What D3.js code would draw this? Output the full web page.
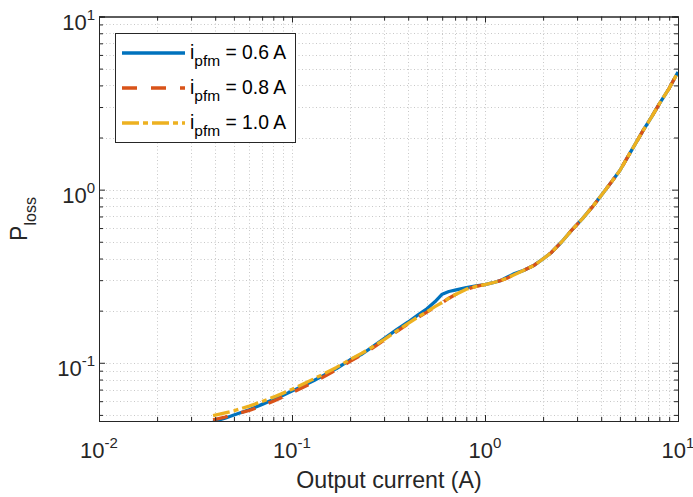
<!DOCTYPE html>
<html><head><meta charset="utf-8">
<script src="https://cdn.jsdelivr.net/npm/d3@7"></script>
<style>body{margin:0;background:#fff}</style>
</head><body>
<svg id="c" width="693" height="497"></svg>
<script>
// ---- data ----
const current = [0.039, 0.045, 0.05, 0.06, 0.07, 0.08, 0.09, 0.1, 0.115, 0.13, 0.15, 0.17, 0.2, 0.23, 0.26, 0.3, 0.35, 0.4, 0.45, 0.5, 0.55, 0.6, 0.65, 0.7, 0.8, 0.9, 1.0, 1.1, 1.2, 1.3, 1.4, 1.6, 1.8, 2.0, 2.2, 2.5, 2.8, 3.2, 3.6, 4.0, 4.5, 5.0, 5.5, 6.0, 6.6, 7.3, 8.0, 9.0, 10.0];
const loss06 = [0.0458, 0.0478, 0.0499, 0.0535, 0.0575, 0.0613, 0.065, 0.0686, 0.074, 0.079, 0.086, 0.0925, 0.104, 0.112, 0.123, 0.138, 0.156, 0.172, 0.189, 0.205, 0.225, 0.249, 0.258, 0.263, 0.272, 0.278, 0.283, 0.29, 0.298, 0.312, 0.325, 0.343, 0.366, 0.398, 0.432, 0.50, 0.58, 0.68, 0.795, 0.925, 1.10, 1.29, 1.55, 1.83, 2.20, 2.63, 3.13, 3.85, 4.78];
const loss08 = [0.0468, 0.0486, 0.0502, 0.053, 0.0565, 0.060, 0.0636, 0.0672, 0.0725, 0.0775, 0.0845, 0.091, 0.102, 0.111, 0.121, 0.135, 0.152, 0.168, 0.183, 0.196, 0.21, 0.222, 0.236, 0.247, 0.266, 0.276, 0.283, 0.29, 0.298, 0.308, 0.32, 0.343, 0.366, 0.398, 0.432, 0.50, 0.58, 0.68, 0.795, 0.925, 1.10, 1.29, 1.55, 1.83, 2.20, 2.63, 3.13, 3.85, 4.78];
const loss10 = [0.0495, 0.0513, 0.0528, 0.0562, 0.0598, 0.0633, 0.0668, 0.0703, 0.0757, 0.0808, 0.0875, 0.094, 0.1045, 0.1135, 0.123, 0.136, 0.153, 0.169, 0.184, 0.197, 0.211, 0.223, 0.236, 0.247, 0.266, 0.276, 0.283, 0.29, 0.298, 0.308, 0.32, 0.343, 0.366, 0.398, 0.432, 0.50, 0.58, 0.68, 0.795, 0.925, 1.10, 1.29, 1.55, 1.83, 2.20, 2.63, 3.13, 3.85, 4.78];
const seriesLabels = ["0.6 A", "0.8 A", "1.0 A"];
const xTickExps = [-2, -1, 0, 1];
const yTickExps = [-1, 0, 1];
const xLabel = "Output current (A)";

// ---- layout ----
const L = 99, R = 678, T = 16.5, B = 421;
const font = "'Liberation Sans', Arial, Helvetica, sans-serif";
const axisColor = "#262626";
const svg = d3.select("#c");
const x = d3.scaleLog().domain([0.01, 10]).range([L, R]);
const y = d3.scaleLog().domain([0.0461, 10]).range([B, T]);

function minorVals(scale) {
  const [a, b] = scale.domain();
  const out = [];
  for (let e = Math.floor(Math.log10(a)); e <= Math.ceil(Math.log10(b)); e++) {
    for (let k = 1; k <= 9; k++) {
      const v = k * Math.pow(10, e);
      if (v >= a * 0.9999 && v <= b * 1.0001) out.push(v);
    }
  }
  return out;
}
const xAll = minorVals(x), yAll = minorVals(y);
const xMaj = xTickExps.map(e => Math.pow(10, e));
const yMaj = yTickExps.map(e => Math.pow(10, e));

// grid
const grid = svg.append("g").attr("stroke", "#c8c8c8").attr("stroke-width", 1).attr("stroke-dasharray", "1,2.5");
grid.selectAll("line.gx").data(xAll.filter(v => x(v) > L + 1 && x(v) < R - 1)).join("line")
  .attr("x1", d => Math.round(x(d)) + 0.5).attr("x2", d => Math.round(x(d)) + 0.5).attr("y1", T).attr("y2", B);
grid.selectAll("line.gy").data(yAll.filter(v => y(v) > T + 1 && y(v) < B - 1)).join("line")
  .attr("y1", d => Math.round(y(d)) + 0.5).attr("y2", d => Math.round(y(d)) + 0.5).attr("x1", L).attr("x2", R);

// curves
svg.append("defs").append("clipPath").attr("id", "clip")
  .append("rect").attr("x", L).attr("y", T).attr("width", R - L).attr("height", B - T);
const line = d3.line().x(d => x(d[0])).y(d => y(d[1]));
const series = [
  {vals: loss06, color: "#0072BD", dash: null},
  {vals: loss08, color: "#D95319", dash: "15,14"},
  {vals: loss10, color: "#EDB120", dash: "17,4,5,4"}
];
const cg = svg.append("g").attr("clip-path", "url(#clip)");
series.forEach(s => {
  cg.append("path").datum(current.map((c, i) => [c, s.vals[i]]))
    .attr("d", line).attr("fill", "none").attr("stroke", s.color)
    .attr("stroke-width", 3.3).attr("stroke-dasharray", s.dash).attr("stroke-linejoin", "round");
});

// axes (ticks inside, box)
function styleAxis(g) {
  g.select(".domain").attr("stroke", axisColor).attr("stroke-width", 1);
  g.selectAll(".tick line").attr("stroke", axisColor).attr("stroke-width", 1);
  g.selectAll(".tick text").remove();
}
const minorX = xAll.filter(v => !xMaj.some(m => Math.abs(m - v) < 1e-9));
const minorY = yAll.filter(v => !yMaj.some(m => Math.abs(m - v) < 1e-9));
[[d3.axisBottom, B], [d3.axisTop, T]].forEach(([fn, pos]) => {
  svg.append("g").attr("transform", `translate(0,${pos})`)
    .call(fn(x).tickValues(xMaj).tickSize(-6).tickFormat("")).call(styleAxis);
  svg.append("g").attr("transform", `translate(0,${pos})`)
    .call(fn(x).tickValues(minorX).tickSize(-4).tickFormat("")).call(styleAxis);
});
[[d3.axisLeft, L], [d3.axisRight, R]].forEach(([fn, pos]) => {
  svg.append("g").attr("transform", `translate(${pos},0)`)
    .call(fn(y).tickValues(yMaj).tickSize(-6).tickFormat("")).call(styleAxis);
  svg.append("g").attr("transform", `translate(${pos},0)`)
    .call(fn(y).tickValues(minorY).tickSize(-4).tickFormat("")).call(styleAxis);
});

// tick labels
const tickFs = 22, expFs = 15;
xTickExps.forEach(e => {
  const t = svg.append("text").attr("x", x(Math.pow(10, e))).attr("y", 458)
    .attr("text-anchor", "middle").attr("font-family", font).attr("font-size", tickFs).attr("fill", axisColor);
  t.append("tspan").text("10");
  t.append("tspan").attr("dy", -10).attr("font-size", expFs).text(e < 0 ? "-" + (-e) : String(e));
});
yTickExps.forEach(e => {
  const t = svg.append("text").attr("x", 95).attr("y", y(Math.pow(10, e)) + 13.5)
    .attr("text-anchor", "end").attr("font-family", font).attr("font-size", tickFs).attr("fill", axisColor);
  t.append("tspan").text("10");
  t.append("tspan").attr("dy", -10).attr("font-size", expFs).text(e < 0 ? "-" + (-e) : String(e));
});

// axis labels
svg.append("text").attr("x", 389).attr("y", 488).attr("text-anchor", "middle")
  .attr("font-family", font).attr("font-size", 23.2).attr("fill", axisColor).text(xLabel);
const yl = svg.append("text").attr("transform", "translate(27,219) rotate(-90)")
  .attr("text-anchor", "middle").attr("font-family", font).attr("font-size", 23).attr("fill", axisColor);
yl.append("tspan").text("P");
yl.append("tspan").attr("dy", 9).attr("font-size", 16).text("loss");

// legend
const lg = svg.append("g");
lg.append("rect").attr("x", 115.5).attr("y", 33.5).attr("width", 180).attr("height", 109)
  .attr("fill", "#fff").attr("stroke", axisColor).attr("stroke-width", 1);
series.forEach((s, i) => {
  const ly = 53 + i * 35;
  lg.append("line").attr("x1", 122).attr("x2", 185).attr("y1", ly).attr("y2", ly)
    .attr("stroke", s.color).attr("stroke-width", 3.3).attr("stroke-dasharray", s.dash);
  const t = lg.append("text").attr("x", 190).attr("y", ly + 6).attr("font-family", font)
    .attr("font-size", 19.3).attr("fill", "#000");
  t.append("tspan").text("i");
  t.append("tspan").attr("dy", 7).attr("font-size", 15.5).text("pfm");
  t.append("tspan").attr("dy", -7).text(" = " + seriesLabels[i]);
});
</script>
</body></html>
